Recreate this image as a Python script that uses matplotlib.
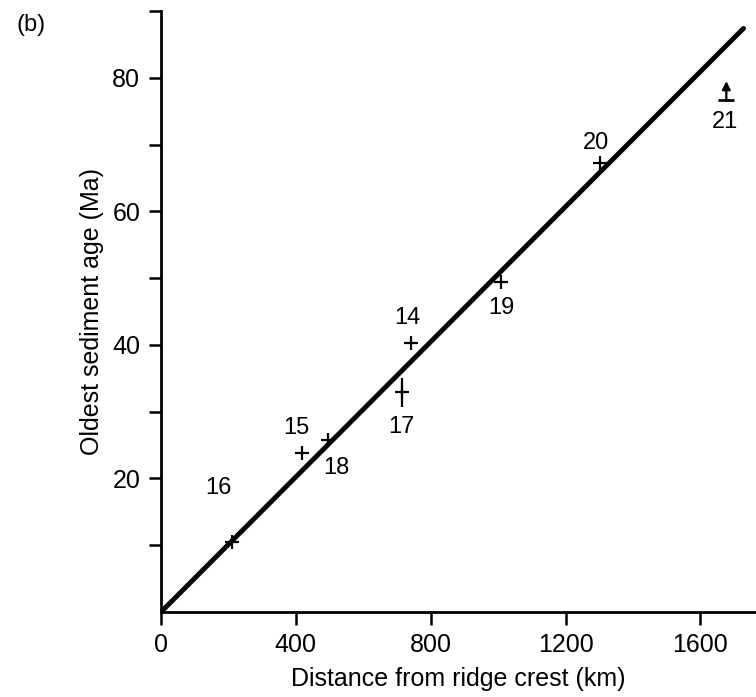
import matplotlib
matplotlib.use("Agg")
import matplotlib.pyplot as plt
from matplotlib.ticker import FuncFormatter

plt.rcParams['font.family'] = ['Liberation Sans', 'DejaVu Sans']

# Data (distance km, oldest sediment age Ma)
site_labels = ["16", "15", "18", "14", "17", "19", "20"]
distance_km = [210, 417, 495, 741, 714, 1010, 1301]
age_ma = [10.5, 23.8, 25.7, 40.3, 33.0, 49.4, 67.2]
age_err_lo = [0, 0, 0, 0, 2.3, 0, 0]
age_err_hi = [0, 0, 0, 0, 2.0, 0, 0]

# label positions offsets (data units)
label_dx = [-41, -14, 26, -9, 0, 0, -11]
label_dy = [8.1, 3.7, -4.1, 3.7, -5.3, -3.9, 3.0]

# Site 21: minimum age (arrow)
site21_label = "21"
site21_x = 1677
site21_y = 76.6
site21_top = 79.5

# Best-fit line
fit_x = [0, 1728]
fit_y = [0, 87.4]

W, H = 756, 697
fig = plt.figure(figsize=(W / 100, H / 100), dpi=100)
ax = fig.add_axes([161 / W, (H - 612) / H, (W - 161) / W, (612 - 11) / H])

ax.plot(fit_x, fit_y, color='black', lw=3.5, solid_capstyle='round', zorder=2)

ax.errorbar(distance_km, age_ma, yerr=[age_err_lo, age_err_hi], fmt='+',
            color='black', ms=10, mew=1.6, elinewidth=1.6, capsize=0, zorder=3)

for lab, x, y, dx, dy in zip(site_labels, distance_km, age_ma, label_dx, label_dy):
    ax.text(x + dx, y + dy, lab, fontsize=17, ha='center', va='center')

# site 21 symbol: base bar + stem + arrowhead
ax.plot([site21_x], [site21_y], marker='_', ms=12, mew=2, color='black')
ax.annotate('', xy=(site21_x, site21_top), xytext=(site21_x, site21_y),
            arrowprops=dict(arrowstyle='-|>', color='black', lw=1.6,
                            mutation_scale=12, shrinkA=0, shrinkB=0))
ax.text(site21_x - 3, site21_y - 3.2, site21_label, fontsize=17,
        ha='center', va='center')

ax.set_xlim(0, 1765)
ax.set_ylim(0, 90)
ax.set_xticks([0, 400, 800, 1200, 1600])
ax.set_yticks(list(range(10, 91, 10)))
ax.yaxis.set_major_formatter(FuncFormatter(
    lambda v, p: f"{int(v)}" if int(v) in (20, 40, 60, 80) else ""))

for s in ('top', 'right'):
    ax.spines[s].set_visible(False)
for s in ('left', 'bottom'):
    ax.spines[s].set_linewidth(2)
ax.tick_params(direction='out', length=9, width=1.8, labelsize=18, pad=6)

ax.set_xlabel("Distance from ridge crest (km)", fontsize=18, labelpad=7)
ax.set_ylabel("Oldest sediment age (Ma)", fontsize=18, labelpad=6)

fig.text(31 / W, 1 - 25 / H, "(b)", fontsize=17, ha='center', va='center')

fig.savefig("out.png", dpi=100)
